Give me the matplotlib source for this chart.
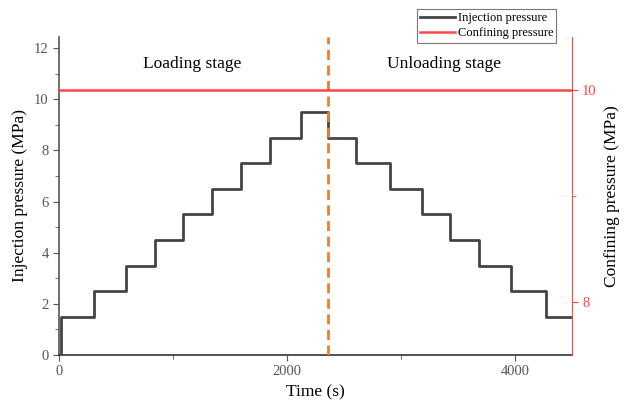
import numpy as np
import matplotlib
matplotlib.use("Agg")
import matplotlib.pyplot as plt
from matplotlib.ticker import MultipleLocator

# step change times (s) and the injection pressure held after each change (MPa)
change_time = [0, 15, 310, 589, 838, 1087, 1339, 1597, 1849, 2127,
               2362, 2608, 2901, 3188, 3431, 3686, 3965, 4273, 4500]
injection = [0, 1.5, 2.5, 3.5, 4.5, 5.5, 6.5, 7.5, 8.5, 9.5,
             8.5, 7.5, 6.5, 5.5, 4.5, 3.5, 2.5, 1.5, 1.5]

confining = 10.0          # MPa, right axis
switch_time = 2362        # loading -> unloading
stage_names = ["Loading stage", "Unloading stage"]
stage_x = [1170, 3376]

plt.rcParams['font.family'] = ['Liberation Serif', 'DejaVu Serif']
grey = '#555555'
red = '#ff4646'

fig = plt.figure(figsize=(6.3, 4.11), dpi=100)
ax = fig.add_axes([0.0937, 0.1363, 0.8138, 0.7744])
ax2 = ax.twinx()

l1, = ax.plot(change_time, injection, drawstyle='steps-post', color='#444444',
              lw=2.0, label='Injection pressure', zorder=3)
l2 = ax2.axhline(confining, color=red, lw=1.8, label='Confining pressure')
ax.axvline(switch_time, color='#ef7d2d', lw=2.0, ls=(0, (3.6, 2.0)), zorder=4)

for name, x in zip(stage_names, stage_x):
    ax.text(x, 11.4, name, ha='center', va='center', fontsize=12.5)

ax.set_xlim(0, 4500)
ax.set_ylim(0, 12.45)
ax2.set_ylim(7.5, 10.5)

ax.xaxis.set_major_locator(MultipleLocator(2000))
ax.xaxis.set_minor_locator(MultipleLocator(1000))
ax.yaxis.set_major_locator(MultipleLocator(2))
ax.yaxis.set_minor_locator(MultipleLocator(1))
ax2.yaxis.set_major_locator(MultipleLocator(2))
ax2.yaxis.set_minor_locator(MultipleLocator(1))

ax.spines['top'].set_visible(False)
ax2.spines['top'].set_visible(False)
ax.spines['right'].set_visible(False)
ax.spines['left'].set_color(grey)
ax.spines['bottom'].set_color('#333333')
ax.spines['bottom'].set_linewidth(1.2)
ax.spines['left'].set_linewidth(1.2)
ax2.spines['left'].set_visible(False)
ax2.spines['bottom'].set_visible(False)
ax2.spines['right'].set_color(red)

ax.tick_params(axis='both', which='both', direction='out', colors=grey,
               labelsize=10.5, labelcolor=grey)
ax.tick_params(which='major', length=4)
ax.tick_params(which='minor', length=3)
ax2.tick_params(axis='y', which='both', colors=red, labelcolor=red, labelsize=10.5)
ax2.tick_params(which='major', length=4)
ax2.tick_params(which='minor', length=3)

ax.set_xlabel('Time (s)', fontsize=12.5)
ax.set_ylabel('Injection pressure (MPa)', fontsize=12.5)
ax2.set_ylabel('Confining pressure (MPa)', fontsize=12.5, labelpad=5)

leg = fig.legend(handles=[l1, l2], loc='upper right', bbox_to_anchor=(0.893, 0.993),
                 fontsize=9, frameon=True, fancybox=False, handlelength=2.8,
                 handletextpad=0.2, borderpad=0.25, labelspacing=0.25)
leg.get_frame().set_edgecolor('#555555')
leg.get_frame().set_linewidth(0.8)

fig.savefig('out.png', dpi=100)
